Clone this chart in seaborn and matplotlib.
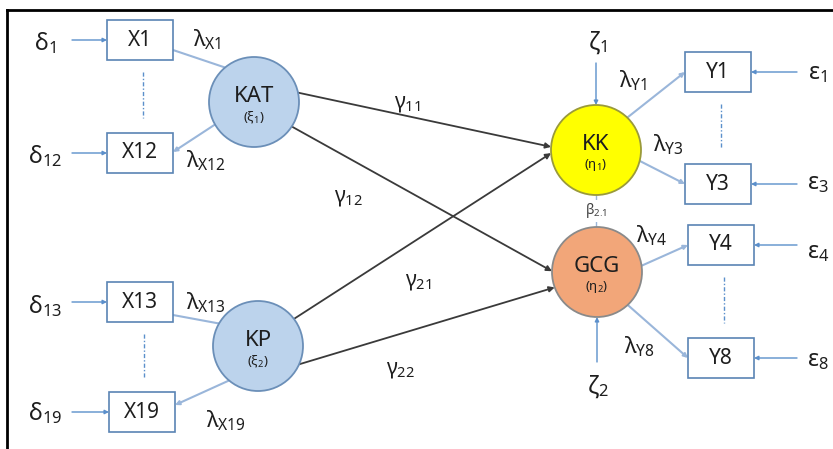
import numpy as np
import matplotlib
matplotlib.use("Agg")
import matplotlib.pyplot as plt
from matplotlib.patches import Circle, Rectangle, FancyArrowPatch
import seaborn as sns

# ============================================================
# MODEL CONTENT
# ============================================================
latent_names = ["KAT", "KP", "KK", "GCG"]
latent_symbols = [r"(ξ_{1})", r"(ξ_{2})", r"(η_{1})", r"(η_{2})"]

indicator_names = ["X1", "X12", "X13", "X19", "Y1", "Y3", "Y4", "Y8"]
indicator_factor = ["KAT", "KAT", "KP", "KP", "KK", "KK", "GCG", "GCG"]
error_labels = ["δ_{1}", "δ_{12}", "δ_{13}", "δ_{19}", "ε_{1}", "ε_{3}", "ε_{4}", "ε_{8}"]
loading_labels = ["λ_{X1}", "λ_{X12}", "λ_{X13}", "λ_{X19}",
                  "λ_{Y1}", "λ_{Y3}", "λ_{Y4}", "λ_{Y8}"]

path_from = ["KAT", "KAT", "KP", "KP"]
path_to = ["KK", "GCG", "KK", "GCG"]
path_labels = ["γ_{11}", "γ_{12}", "γ_{21}", "γ_{22}"]

disturbance_factor = ["KK", "GCG"]
disturbance_labels = ["ζ_{1}", "ζ_{2}"]
beta_label = "β_{2.1}"

# ============================================================
# LAYOUT (pixel space, y downwards)
# ============================================================
W, H = 833, 449
latent_xy = {"KAT": (254, 102), "KP": (258, 346), "KK": (596, 150), "GCG": (597, 272)}
latent_r = 45
latent_fill = {"KAT": "#bcd3ec", "KP": "#bcd3ec", "KK": "#ffff00", "GCG": "#f2a679"}
latent_edge = {"KAT": "#6b8fb8", "KP": "#6b8fb8", "KK": "#9a9a3a", "GCG": "#8a8a8a"}

box_xy = [(140, 40), (140, 153), (140, 302), (142, 412),
          (718, 72), (718, 184), (721, 245), (721, 358)]
box_w, box_h = 66, 40
load_angle = [-130, 150, -150, 130, -46, 14, -8, 47]
load_dy = [10, -1, 13, -7, 0, 0, 0, 0]
load_arrow = [False, True, False, True, True, True, True, True]
load_label_xy = [(207, 40), (206, 161), (206, 303), (226, 421),
                 (633, 81), (668, 145), (652, 236), (639, 347)]
error_xy = [(45, 43), (45, 156), (45, 306), (45, 413),
            (818, 73), (818, 183), (818, 252), (818, 360)]

path_angles = [(-12, 184), (33, 181), (-37, 176), (24, 160)]
path_label_xy = [(407, 103), (348, 198), (418, 282), (400, 370)]
disturbance_xy = [(597, 43), (598, 387)]

text_col = "#1e1e1e"
meas_col = "#9ab6da"
err_col = "#5b8fcb"
box_col = "#5a84b4"
struct_col = "#3a3a3a"

sns.set_theme(style="white")
plt.rcParams["font.family"] = ["Noto Sans", "DejaVu Sans"]
plt.rcParams["mathtext.fontset"] = "custom"
plt.rcParams["mathtext.rm"] = "Noto Sans"
plt.rcParams["mathtext.it"] = "Noto Sans"
plt.rcParams["mathtext.bf"] = "Noto Sans:bold"
plt.rcParams["mathtext.default"] = "regular"

fig = plt.figure(figsize=(W / 100, H / 100), dpi=100)

# frame (left and top rule only)
frame = fig.add_axes([7 / W, 0, (W - 7) / W, (H - 10) / H])
frame.set_xticks([])
frame.set_yticks([])
for side in ["right", "bottom"]:
    frame.spines[side].set_visible(False)
for side in ["left", "top"]:
    frame.spines[side].set_color("black")
    frame.spines[side].set_linewidth(2)
frame.patch.set_alpha(0)

ax = fig.add_axes([0, 0, 1, 1])
ax.set_xlim(0, W)
ax.set_ylim(H, 0)
ax.axis("off")
ax.patch.set_alpha(0)


def math(s):
    return "$" + s + "$"


def arrow(p0, p1, color, lw, head=True, ms=8, z=2):
    ax.add_patch(FancyArrowPatch(p0, p1, arrowstyle="-|>" if head else "-",
                                 mutation_scale=ms, color=color, lw=lw,
                                 shrinkA=0, shrinkB=0, zorder=z))


def port(name, ang):
    cx, cy = latent_xy[name]
    a = np.deg2rad(ang)
    return (cx + latent_r * np.cos(a), cy + latent_r * np.sin(a))


# latent variables
for name, sym in zip(latent_names, latent_symbols):
    cx, cy = latent_xy[name]
    ax.add_patch(Circle((cx, cy), latent_r, facecolor=latent_fill[name],
                        edgecolor=latent_edge[name], lw=1.3, zorder=3))
    ax.text(cx, cy - 6, name, ha="center", va="center", fontsize=16,
            color=text_col, zorder=4)
    ax.text(cx, cy + 15, math(sym), ha="center", va="center", fontsize=9.5,
            color=text_col, zorder=4)

# indicators, errors, loadings
for i, name in enumerate(indicator_names):
    bx, by = box_xy[i]
    ax.add_patch(Rectangle((bx - box_w / 2, by - box_h / 2), box_w, box_h,
                           facecolor="white", edgecolor=box_col, lw=1.2, zorder=3))
    ax.text(bx, by, name, ha="center", va="center", fontsize=15,
            color=text_col, zorder=4)

    is_x = name.startswith("X")
    side_x = bx + box_w / 2 if is_x else bx - box_w / 2
    far_x = bx + box_w / 2 if not is_x else bx - box_w / 2
    ex, ey = error_xy[i]
    start = ex + 27 if is_x else ex - 21
    arrow((start, by), (far_x, by), err_col, 1.0, ms=6)
    ax.text(ex, ey, math(error_labels[i]), ha="center", va="center",
            fontsize=17, color=text_col)

    p0 = port(indicator_factor[i], load_angle[i])
    arrow(p0, (side_x, by + load_dy[i]), meas_col, 1.5,
          head=load_arrow[i], ms=6)
    lx, ly = load_label_xy[i]
    ax.text(lx, ly, math(loading_labels[i]), ha="center", va="center",
            fontsize=16, color=text_col)

# dash-dot continuation marks between indicator pairs
for k in range(0, len(indicator_names), 2):
    (x0, y0), (x1, y1) = box_xy[k], box_xy[k + 1]
    xm = (x0 + x1) / 2 + 3
    ax.plot([xm, xm], [y0 + box_h / 2 + 12, y1 - box_h / 2 - 15],
            color=err_col, lw=1.0, ls=(0, (3, 1.5, 1, 1.5)))

# structural paths
for src, dst, lab, (a0, a1), (lx, ly) in zip(path_from, path_to, path_labels,
                                             path_angles, path_label_xy):
    arrow(port(src, a0), port(dst, a1), struct_col, 1.3, ms=8)
    ax.text(lx, ly, math(r"\mathbf{" + lab.split("_")[0] + "}_{" +
                         lab.split("{")[1].rstrip("}") + "}"),
            ha="center", va="center", fontsize=15, color=text_col)

# disturbances
for fac, lab, (lx, ly) in zip(disturbance_factor, disturbance_labels, disturbance_xy):
    cx, cy = latent_xy[fac]
    if ly < cy:
        arrow((cx, ly + 20), (cx, cy - latent_r), err_col, 1.0, ms=6)
    else:
        arrow((cx, ly - 25), (cx, cy + latent_r), err_col, 1.0, ms=6)
    ax.text(lx, ly, math(lab), ha="center", va="center", fontsize=17,
            color=text_col)

# beta between endogenous factors
kx, ky = latent_xy["KK"]
gx, gy = latent_xy["GCG"]
ax.plot([kx, kx], [ky + latent_r, gy - latent_r], color=meas_col, lw=1.0, zorder=1)
ax.text(kx, (ky + gy) / 2, math(beta_label), ha="center", va="center", fontsize=10,
        color="#444444", zorder=4,
        bbox=dict(facecolor="white", edgecolor="none", pad=1))

fig.savefig("out.png", dpi=100, facecolor="white")
